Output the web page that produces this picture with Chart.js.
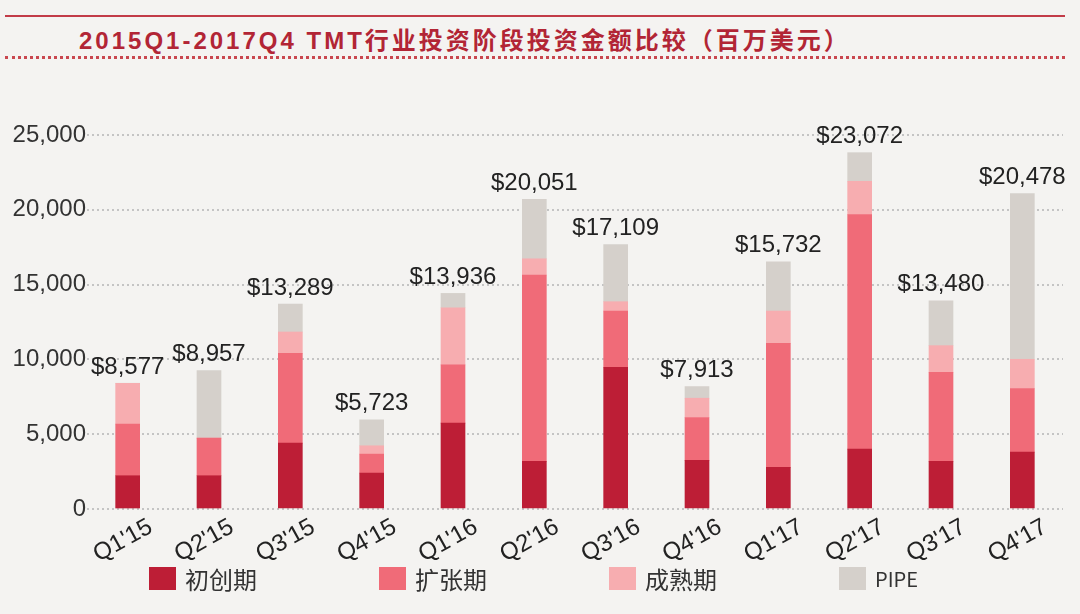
<!DOCTYPE html>
<html>
<head>
<meta charset="utf-8">
<script src="https://cdn.jsdelivr.net/npm/chart.js@4/dist/chart.umd.min.js"></script>
<style>
  html, body { margin: 0; padding: 0; background: #f4f3f1; overflow: hidden; }
  #wrap { position: relative; width: 1080px; height: 614px; }
  #chart { position: absolute; left: 0; top: 0; }
  .line-top { position: absolute; left: 5px; top: 15px; width: 1060px; height: 2px; background: #c23b48; }
  .line-dots { position: absolute; left: 5px; top: 56px; width: 1060px; border-top: 3px dotted #c9474f; }
  .title {
    position: absolute; left: 79px; top: 21px; line-height: 24px;
    font: bold 24px "Liberation Sans", "Noto Sans CJK SC", sans-serif;
    letter-spacing: 3px; color: #b22535; white-space: nowrap;
  }
  .title .cjk { font-family: "Noto Sans CJK SC", sans-serif; }
  #legend { position: absolute; left: 149px; top: 567px; display: flex; }
  .item { width: 230px; display: flex; align-items: center; }
  .box { width: 27px; height: 23px; margin-right: 9px; }
  .lbl { font: 24px "Noto Sans CJK SC", sans-serif; color: #333; line-height: 23px; }
  .lbl.latin { font-size: 20px; }
</style>
</head>
<body>
<div id="wrap">
  <div class="line-top"></div>
  <div class="title">2015Q1-2017Q4 TMT<span class="cjk">行业投资阶段投资金额比较（百万美元）</span></div>
  <div class="line-dots"></div>
  <canvas id="chart" width="1080" height="614"></canvas>
  <div id="legend"></div>
</div>
<script>
// 季度
const quarters = ["Q1'15", "Q2'15", "Q3'15", "Q4'15", "Q1'16", "Q2'16", "Q3'16", "Q4'16", "Q1'17", "Q2'17", "Q3'17", "Q4'17"];

// 各阶段金额（百万美元）
const seedStage = [2224, 2224, 4404, 2402, 5738, 3180, 9474, 3247, 2780, 4003, 3180, 3803];
const growthStage = [3447, 2513, 6004, 1268, 3892, 12455, 3759, 2869, 8296, 15679, 5961, 4248];
const matureStage = [2736, 0, 1424, 556, 3825, 1089, 623, 1290, 2157, 2224, 1779, 1957];
const pipeStage = [0, 4515, 1868, 1734, 957, 3981, 3825, 778, 3291, 1913, 3002, 11076];

// 柱顶标注的合计
const totals = [8577, 8957, 13289, 5723, 13936, 20051, 17109, 7913, 15732, 23072, 13480, 20478];

const seriesNames = ['初创期', '扩张期', '成熟期', 'PIPE'];
const seriesColors = ['#bd1e36', '#f06b78', '#f7adb0', '#d5d0cb'];

const yTicks = [0, 5000, 10000, 15000, 20000, 25000];

const fmt = v => Number(v).toLocaleString('en-US');

// 柱顶合计标签
const totalLabels = {
  id: 'totalLabels',
  afterDatasetsDraw(chart) {
    const ctx = chart.ctx;
    const top = chart.getDatasetMeta(chart.data.datasets.length - 1);
    ctx.save();
    ctx.font = '24px "Liberation Sans", Arial, sans-serif';
    ctx.fillStyle = '#222';
    ctx.textAlign = 'center';
    ctx.textBaseline = 'bottom';
    top.data.forEach((bar, i) => {
      ctx.fillText('$' + fmt(totals[i]), bar.x, bar.y - 4);
    });
    ctx.restore();
  }
};

const stacks = [seedStage, growthStage, matureStage, pipeStage];

new Chart(document.getElementById('chart'), {
  type: 'bar',
  data: {
    labels: quarters,
    datasets: stacks.map((d, i) => ({
      label: seriesNames[i],
      data: d,
      backgroundColor: seriesColors[i],
      borderWidth: 0,
      barThickness: 24
    }))
  },
  options: {
    responsive: false,
    animation: false,
    layout: { padding: { top: 135, right: 17, bottom: 45, left: 0 } },
    plugins: {
      legend: { display: false },
      tooltip: { enabled: false }
    },
    scales: {
      x: {
        stacked: true,
        grid: { display: false, drawTicks: false },
        border: { display: false },
        ticks: {
          color: '#222',
          font: { family: '"Liberation Sans", Arial, sans-serif', size: 24 },
          minRotation: 29, maxRotation: 29,
          padding: 4,
          labelOffset: 23
        },
        afterFit(scale) { scale.height = 60; }
      },
      y: {
        stacked: true,
        min: 0, max: 25000,
        afterBuildTicks(scale) { scale.ticks = yTicks.map(v => ({ value: v })); },
        grid: { color: '#c4c4c4', lineWidth: 2, drawTicks: false },
        border: { display: false, dash: [2, 3] },
        ticks: {
          color: '#333',
          padding: 1,
          font: { family: '"Liberation Sans", Arial, sans-serif', size: 24 },
          callback: v => fmt(v)
        },
        afterFit(scale) { scale.width = 87; }
      }
    }
  },
  plugins: [totalLabels]
});

// 图例
const legend = document.getElementById('legend');
seriesNames.forEach((name, i) => {
  const item = document.createElement('div');
  item.className = 'item';
  const box = document.createElement('div');
  box.className = 'box';
  box.style.background = seriesColors[i];
  const lbl = document.createElement('span');
  lbl.className = 'lbl' + (/^[A-Z]+$/.test(name) ? ' latin' : '');
  lbl.textContent = name;
  item.appendChild(box);
  item.appendChild(lbl);
  legend.appendChild(item);
});
</script>
</body>
</html>
